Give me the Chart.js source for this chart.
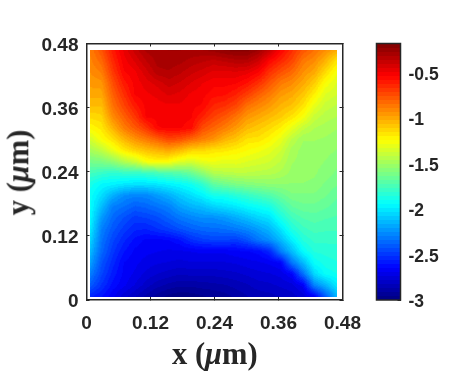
<!DOCTYPE html>
<html>
<head>
<meta charset="utf-8">
<script src="https://cdn.jsdelivr.net/npm/chart.js@4"></script>
<style>
  html, body { margin: 0; padding: 0; background: #fff; }
  #wrap { position: relative; width: 472px; height: 378px; overflow: hidden; }
  canvas { position: absolute; top: 0; }
  #heat-chart { left: 0; }
  #bar-chart { left: 360px; }
  .axis-title {
    position: absolute;
    font: bold 30.5px "Liberation Serif", serif;
    color: #262626;
    white-space: nowrap;
  }
</style>
</head>
<body>
<div id="wrap">
  <canvas id="heat-chart"></canvas>
  <canvas id="bar-chart"></canvas>
  <div class="axis-title" id="x-title">x (<i>&mu;</i>m)</div>
  <div class="axis-title" id="y-title">y (<i>&mu;</i>m)</div>
</div>
<script>
const axisTicks = [0, 0.12, 0.24, 0.36, 0.48];
const colorTicks = [-3, -2.5, -2, -1.5, -1, -0.5];
const colorRange = [-3, -0.184];

const xNodes = [0.007, 0.028, 0.049, 0.07, 0.091, 0.112, 0.133, 0.154, 0.175, 0.196, 0.217, 0.238,
  0.259, 0.28, 0.301, 0.322, 0.343, 0.364, 0.385, 0.406, 0.427, 0.448, 0.469];
const yNodes = [0.469, 0.448, 0.427, 0.406, 0.385, 0.364, 0.343, 0.322, 0.301, 0.28, 0.259, 0.238,
  0.217, 0.196, 0.175, 0.154, 0.133, 0.112, 0.091, 0.07, 0.049, 0.028, 0.007];

// one list per x node, each running from the top of the plot to the bottom
const zColumns = [
  [-.88,-.90,-.93,-.96,-1.0,-1.06,-1.14,-1.23,-1.36,-1.48,-1.62,-1.76,-1.88,-1.92,-1.93,-1.95,-1.99,-2.06,-2.13,-2.2,-2.3,-2.4,-2.55],
  [-.76,-.82,-.88,-.95,-1.0,-1.06,-1.12,-1.18,-1.25,-1.42,-1.60,-1.79,-1.95,-2.03,-2.12,-2.22,-2.29,-2.33,-2.36,-2.42,-2.46,-2.52,-2.6],
  [-.6,-.64,-.69,-.75,-.8,-.85,-.92,-1.03,-1.16,-1.3,-1.55,-1.82,-1.97,-2.16,-2.3,-2.36,-2.41,-2.46,-2.5,-2.54,-2.58,-2.62,-2.68],
  [-.48,-.51,-.54,-.6,-.66,-.72,-.8,-.88,-1.04,-1.19,-1.45,-1.8,-2.0,-2.25,-2.34,-2.43,-2.49,-2.55,-2.6,-2.65,-2.66,-2.68,-2.76],
  [-.38,-.44,-.5,-.52,-.53,-.6,-.68,-.78,-.94,-1.12,-1.38,-1.8,-2.02,-2.28,-2.39,-2.49,-2.55,-2.62,-2.66,-2.68,-2.7,-2.74,-2.82],
  [-.3,-.36,-.42,-.47,-.5,-.52,-.53,-.68,-.87,-1.07,-1.26,-1.78,-2.02,-2.27,-2.37,-2.47,-2.56,-2.66,-2.68,-2.71,-2.75,-2.8,-2.88],
  [-.28,-.3,-.33,-.43,-.48,-.51,-.52,-.54,-.8,-1.03,-1.23,-1.75,-2.0,-2.22,-2.33,-2.44,-2.52,-2.66,-2.69,-2.73,-2.78,-2.85,-2.93],
  [-.27,-.29,-.32,-.38,-.44,-.5,-.52,-.53,-.72,-1.0,-1.25,-1.72,-1.97,-2.16,-2.29,-2.38,-2.48,-2.65,-2.7,-2.74,-2.8,-2.88,-2.97],
  [-.27,-.3,-.35,-.41,-.46,-.5,-.52,-.53,-.75,-1.05,-1.32,-1.7,-1.94,-2.09,-2.2,-2.32,-2.43,-2.61,-2.7,-2.75,-2.82,-2.9,-2.99],
  [-.28,-.33,-.39,-.45,-.5,-.52,-.53,-.56,-.82,-1.12,-1.36,-1.65,-1.9,-2.03,-2.15,-2.28,-2.39,-2.53,-2.69,-2.74,-2.81,-2.9,-2.98],
  [-.27,-.35,-.42,-.49,-.52,-.54,-.62,-.74,-.88,-1.13,-1.3,-1.55,-1.82,-1.97,-2.12,-2.25,-2.36,-2.49,-2.68,-2.74,-2.81,-2.89,-2.96],
  [-.25,-.37,-.46,-.52,-.56,-.63,-.71,-.81,-.94,-1.17,-1.28,-1.45,-1.68,-1.89,-2.06,-2.25,-2.35,-2.47,-2.68,-2.74,-2.81,-2.88,-2.95],
  [-.22,-.35,-.46,-.52,-.57,-.66,-.77,-.88,-1.03,-1.18,-1.31,-1.43,-1.64,-1.88,-2.03,-2.22,-2.34,-2.47,-2.68,-2.74,-2.8,-2.87,-2.93],
  [-.2,-.33,-.45,-.53,-.62,-.72,-.85,-.96,-1.08,-1.21,-1.3,-1.42,-1.6,-1.84,-2.0,-2.17,-2.31,-2.49,-2.66,-2.73,-2.79,-2.85,-2.9],
  [-.2,-.33,-.47,-.58,-.7,-.84,-.95,-1.05,-1.16,-1.24,-1.33,-1.42,-1.58,-1.8,-1.95,-2.12,-2.27,-2.43,-2.65,-2.71,-2.77,-2.83,-2.87],
  [-.26,-.4,-.53,-.66,-.79,-.9,-1.0,-1.09,-1.17,-1.27,-1.35,-1.43,-1.56,-1.76,-1.92,-2.06,-2.21,-2.33,-2.63,-2.7,-2.75,-2.8,-2.85],
  [-.37,-.54,-.66,-.77,-.87,-.96,-1.05,-1.14,-1.22,-1.31,-1.37,-1.44,-1.55,-1.72,-1.88,-2.02,-2.14,-2.26,-2.55,-2.68,-2.74,-2.79,-2.84],
  [-.53,-.63,-.75,-.87,-.96,-1.03,-1.1,-1.2,-1.3,-1.37,-1.42,-1.47,-1.55,-1.66,-1.77,-1.88,-2.01,-2.14,-2.3,-2.65,-2.72,-2.77,-2.82],
  [-.65,-.72,-.82,-.92,-1.0,-1.07,-1.17,-1.3,-1.42,-1.48,-1.5,-1.52,-1.55,-1.6,-1.68,-1.77,-1.86,-1.98,-2.13,-2.32,-2.65,-2.75,-2.8],
  [-.76,-.86,-.93,-1.0,-1.08,-1.16,-1.26,-1.4,-1.5,-1.52,-1.52,-1.53,-1.55,-1.6,-1.65,-1.72,-1.78,-1.85,-1.94,-2.13,-2.34,-2.67,-2.76],
  [-.84,-.92,-1.0,-1.1,-1.2,-1.3,-1.39,-1.46,-1.5,-1.52,-1.53,-1.54,-1.56,-1.6,-1.65,-1.7,-1.75,-1.8,-1.85,-1.93,-2.05,-2.28,-2.66],
  [-.92,-1.03,-1.14,-1.25,-1.33,-1.39,-1.44,-1.48,-1.51,-1.53,-1.55,-1.57,-1.6,-1.63,-1.67,-1.72,-1.76,-1.8,-1.84,-1.88,-1.93,-2.15,-2.4],
  [-1.0,-1.17,-1.27,-1.33,-1.37,-1.42,-1.46,-1.5,-1.53,-1.55,-1.58,-1.6,-1.63,-1.67,-1.7,-1.73,-1.76,-1.8,-1.83,-1.86,-1.9,-2.0,-2.15]
];

const inkColor = '#262626';
const axisFont = { family: '"Liberation Sans", Arial, sans-serif', size: 19, weight: 'bold' };
const barFont = { family: '"Liberation Sans", Arial, sans-serif', size: 17.5, weight: 'bold' };
const levels = 64;
const tileSize = 14;

const clamp01 = (v) => Math.min(1, Math.max(0, v));

// matlab jet with 64 flat levels
const jetRgb = (level) => {
  const t = (level + 0.5) / levels;
  return [
    Math.round(255 * clamp01(1.5 - Math.abs(4 * t - 3))),
    Math.round(255 * clamp01(1.5 - Math.abs(4 * t - 2))),
    Math.round(255 * clamp01(1.5 - Math.abs(4 * t - 1)))
  ];
};

const levelOf = (z) => {
  const f = (z - colorRange[0]) / (colorRange[1] - colorRange[0]);
  return Math.min(levels - 1, Math.max(0, Math.floor(f * levels)));
};

// shade between the read values so the cells join up like the contour plot
const zAt = (x, y) => {
  const fx = (x - xNodes[0]) / (xNodes[1] - xNodes[0]);
  const fy = (yNodes[0] - y) / (yNodes[0] - yNodes[1]);
  const i = Math.min(xNodes.length - 2, Math.max(0, Math.floor(fx)));
  const j = Math.min(yNodes.length - 2, Math.max(0, Math.floor(fy)));
  const u = clamp01(fx - i);
  const v = clamp01(fy - j);
  return (1 - u) * (1 - v) * zColumns[i][j] + u * (1 - v) * zColumns[i + 1][j]
    + (1 - u) * v * zColumns[i][j + 1] + u * v * zColumns[i + 1][j + 1];
};

const tiles = {};
const tileFor = (context) => {
  const chart = context.chart;
  // the library asks for this once before layout too, scales have no size then
  if (!chart.chartArea) return 'rect';
  const index = context.dataIndex;
  if (tiles[index]) return tiles[index];
  const point = context.dataset.data[index];
  const xPerPx = 0.48 / chart.scales.x.width;
  const yPerPx = 0.48 / chart.scales.y.height;
  const tile = document.createElement('canvas');
  tile.width = tileSize;
  tile.height = tileSize;
  const tileCtx = tile.getContext('2d');
  const image = tileCtx.createImageData(tileSize, tileSize);
  for (let py = 0; py < tileSize; py++) {
    for (let px = 0; px < tileSize; px++) {
      const x = point.x + (px + 0.5 - tileSize / 2) * xPerPx;
      const y = point.y - (py + 0.5 - tileSize / 2) * yPerPx;
      const rgb = jetRgb(levelOf(zAt(x, y)));
      const k = (py * tileSize + px) * 4;
      image.data[k] = rgb[0];
      image.data[k + 1] = rgb[1];
      image.data[k + 2] = rgb[2];
      image.data[k + 3] = 255;
    }
  }
  tileCtx.putImageData(image, 0, 0);
  tiles[index] = tile;
  return tile;
};

const heatPoints = [];
xNodes.forEach((x, i) => {
  yNodes.forEach((y, j) => {
    heatPoints.push({ x: x, y: y, z: zColumns[i][j] });
  });
});

const fixedTicks = (values) => (scale) => {
  scale.ticks = values.map((value) => ({ value: value }));
};

const boxAxis = (position, size, showLabels) => ({
  type: 'linear',
  position: position,
  min: 0,
  max: 0.48,
  afterBuildTicks: fixedTicks(axisTicks),
  afterFit: (scale) => {
    if (position === 'top' || position === 'bottom') scale.height = size;
    else scale.width = size;
  },
  border: { display: true, color: inkColor, width: 1.5 },
  grid: { drawOnChartArea: false, drawTicks: true, tickLength: -3, color: inkColor, lineWidth: 1 },
  ticks: {
    display: showLabels,
    autoSkip: false,
    maxRotation: 0,
    color: inkColor,
    font: axisFont,
    padding: position === 'bottom' ? 15 : 11,
    labelOffset: position === 'bottom' ? 0 : 2,
    callback: (value) => String(value)
  }
});

const createHeatChart = () => {
  const canvas = document.getElementById('heat-chart');
  canvas.width = 472;
  canvas.height = 378;
  return new Chart(canvas.getContext('2d'), {
    type: 'scatter',
    data: {
      datasets: [{
        data: heatPoints,
        xAxisID: 'x',
        yAxisID: 'y',
        pointRadius: 5,
        pointStyle: tileFor,
        // the contour fill stops a few pixels short of the axes box, whole pixels so the edge stays even
        clip: { left: -3.5, right: -5.5, top: -6.5, bottom: -3 }
      }]
    },
    options: {
      responsive: false,
      animation: false,
      events: [],
      layout: { padding: 0 },
      plugins: { legend: { display: false }, tooltip: { enabled: false } },
      scales: {
        x: boxAxis('bottom', 78, true),
        y: boxAxis('left', 86.5, true),
        x2: boxAxis('top', 43.5, false),
        y2: boxAxis('right', 129.5, false)
      }
    }
  });
};

const jetGradient = (context) => {
  const area = context.chart.chartArea;
  if (!area) return '#000';
  const gradient = context.chart.ctx.createLinearGradient(0, area.bottom, 0, area.top);
  for (let level = 0; level < levels; level++) {
    const rgb = jetRgb(level);
    const color = `rgb(${rgb[0]}, ${rgb[1]}, ${rgb[2]})`;
    gradient.addColorStop(level / levels, color);
    gradient.addColorStop((level + 1) / levels, color);
  }
  return gradient;
};

const frameBar = {
  id: 'frameBar',
  afterDraw: (chart) => {
    const area = chart.chartArea;
    const ctx = chart.ctx;
    ctx.save();
    ctx.strokeStyle = inkColor;
    ctx.lineWidth = 1.5;
    ctx.strokeRect(area.left, area.top, area.right - area.left, area.bottom - area.top);
    ctx.restore();
  }
};

const createBarChart = () => {
  const canvas = document.getElementById('bar-chart');
  canvas.width = 112;
  canvas.height = 378;
  return new Chart(canvas.getContext('2d'), {
    type: 'bar',
    data: {
      labels: ['z'],
      datasets: [{
        data: [colorRange],
        backgroundColor: jetGradient,
        barPercentage: 1,
        categoryPercentage: 1
      }]
    },
    options: {
      responsive: false,
      animation: false,
      events: [],
      layout: { padding: { left: 16.5, top: 43.5, bottom: 78 } },
      plugins: { legend: { display: false }, tooltip: { enabled: false } },
      scales: {
        x: {
          afterFit: (scale) => { scale.height = 0; },
          border: { display: false },
          grid: { display: false },
          ticks: { display: false }
        },
        y: {
          position: 'right',
          min: colorRange[0],
          max: colorRange[1],
          afterBuildTicks: fixedTicks(colorTicks),
          afterFit: (scale) => { scale.width = 71.5; },
          border: { display: false },
          grid: { drawOnChartArea: false, drawTicks: true, tickLength: -3, color: inkColor, lineWidth: 1 },
          ticks: {
            autoSkip: false,
            maxRotation: 0,
            color: inkColor,
            font: barFont,
            padding: 11,
            labelOffset: 2.5,
            callback: (value) => String(value)
          }
        }
      }
    },
    plugins: [frameBar]
  });
};

const placeTitles = () => {
  const xTitle = document.getElementById('x-title');
  xTitle.style.left = '172px';
  xTitle.style.top = '337px';
  const yTitle = document.getElementById('y-title');
  yTitle.style.left = '-24px';
  yTitle.style.top = '155px';
  yTitle.style.transform = 'rotate(-90deg)';
};

createHeatChart();
createBarChart();
placeTitles();
</script>
</body>
</html>
